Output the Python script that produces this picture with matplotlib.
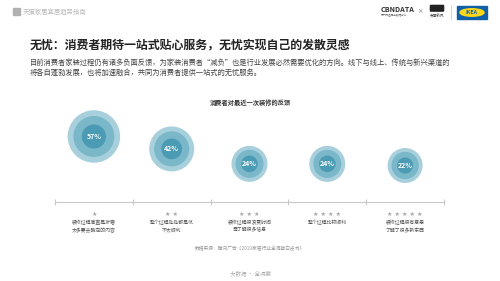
import numpy as np
import matplotlib
matplotlib.use("Agg")
import matplotlib.pyplot as plt
from matplotlib.patches import Rectangle, Ellipse, FancyBboxPatch

plt.rcParams['font.family'] = ['Noto Sans CJK SC', 'DejaVu Sans']

# ── DATA ───────────────────────────────────────────
values = [57, 42, 24, 24, 22]
stars = [1, 2, 3, 4, 5]
labels = ["装修过程简直是折磨\n太多要去确定的内容",
          "整个过程处处都是坑\n不太顺利",
          "装修过程很浪费时间\n需了解很多信息",
          "整个过程比较顺利",
          "装修过程很有意思\n了解了很多新东西"]

title = "无忧：消费者期待一站式贴心服务，无忧实现自己的发散灵感"
body1 = "目前消费者家装过程仍有诸多负面反馈，为家装消费者“减负”也是行业发展必然需要优化的方向。线下与线上、传统与新兴渠道的"
body2 = "将各自蓬勃发展，也将加速融合，共同为消费者提供一站式的无忧服务。"
chart_title = "消费者对最近一次装修的反馈"
source = "数据来源：腾讯广告《2019家居行业全洞察白皮书》"
footer = "大数据 · 全洞察"
header = "天猫家居宜居趋势指南"

c_outer, c_mid, c_inner = '#a8d0dc', '#79b7c9', '#4a9bb3'

# ── FIGURE ─────────────────────────────────────────
fig = plt.figure(figsize=(5, 2.81), dpi=100)
bg = fig.add_axes([0, 0, 1, 1])
bg.set_xlim(0, 500); bg.set_ylim(281, 0); bg.axis('off')

# header left
bg.add_patch(Rectangle((13, 8), 7, 7, color='#b0b0b0'))
bg.text(23, 11.5, header, fontsize=4.6, color='#bbbbbb', va='center')

# logos right
bg.text(381, 9, "CBNDATA", fontsize=5.2, fontweight='bold', color='#333333', va='center')
bg.text(381, 15.5, "第一财经商业数据中心", fontsize=1.9, color='#666666', va='center')
bg.text(420, 12, "×", fontsize=4, color='#555555', va='center', ha='center')
bg.add_patch(FancyBboxPatch((431, 6), 12, 4.5, boxstyle="round,pad=0.6", color='#222222'))
bg.text(437, 16.5, "天猫新风", fontsize=2.6, color='#333333', va='center', ha='center')
bg.plot([451, 451], [5, 19], color='#cccccc', lw=0.6)
bg.add_patch(Rectangle((457, 6), 30, 13, color='#1060a8'))
bg.add_patch(Ellipse((472, 12.5), 24, 7.5, color='#ffd81a'))
bg.text(472, 12.7, "IKEA", fontsize=3.8, fontweight='bold', color='#1060a8', va='center', ha='center')

# titles and body text
bg.text(30, 45, title, fontsize=8.6, fontweight='bold', color='#222222', va='center')
bg.text(30, 63, body1, fontsize=5.25, color='#444444', va='center')
bg.text(30, 73, body2, fontsize=5.25, color='#444444', va='center')
bg.text(250, 102, chart_title, fontsize=4.5, fontweight='bold', color='#333333', va='center', ha='center')
bg.text(250, 248, source, fontsize=3.4, color='#999999', va='center', ha='center')
bg.text(251, 273, footer, fontsize=4.0, color='#aaaaaa', va='center', ha='center')

# ── BUBBLES ────────────────────────────────────────
ax = fig.add_axes([55 / 500, 1 - 202 / 281, 389 / 500, 102 / 281])
ax.set_xlim(-0.5, len(values) - 0.5)
ax.set_ylim(-22, 101)
ax.patch.set_alpha(0)
for s in ['top', 'left', 'right']:
    ax.spines[s].set_visible(False)
ax.spines['bottom'].set_color('#c8c8c8')
ax.spines['bottom'].set_linewidth(0.8)
ax.set_yticks([])
ax.set_xticks([])
ax.set_xticks(np.arange(-0.5, len(values)), minor=True)
ax.tick_params(axis='x', which='minor', direction='inout', length=4, width=0.8,
               color='#c8c8c8', labelbottom=False)

x = np.arange(len(values))
v = np.array(values, dtype=float)
r_px = 12 + 0.25 * v                 # outer radius in pixels
size = lambda r: (2 * r * 0.72) ** 2  # px radius -> points^2
ax.scatter(x, v, s=size(r_px), color=c_outer, lw=0, zorder=2)
ax.scatter(x, v, s=size(r_px * 0.78), color=c_mid, lw=0, zorder=3)
ax.scatter(x, v, s=size(r_px * 0.46), color=c_inner, lw=0, zorder=4)
for xi, vi in zip(x, values):
    ax.text(xi, vi, f"{vi}%", fontsize=5.0, fontweight='bold', color='white',
            ha='center', va='center', zorder=5)

# stars and labels under the axis line
tr = ax.get_xaxis_transform()
for xi, n, lab in zip(x, stars, labels):
    ax.text(xi, -12 / 102, " ".join(["★"] * n), transform=tr, fontsize=4.4,
            color='#a8a8a8', ha='center', va='center', family='DejaVu Sans')
    ax.text(xi, -17.5 / 102, lab, transform=tr, fontsize=3.5, color='#555555',
            ha='center', va='top', linespacing=1.7)

fig.savefig("out.png", dpi=100)
